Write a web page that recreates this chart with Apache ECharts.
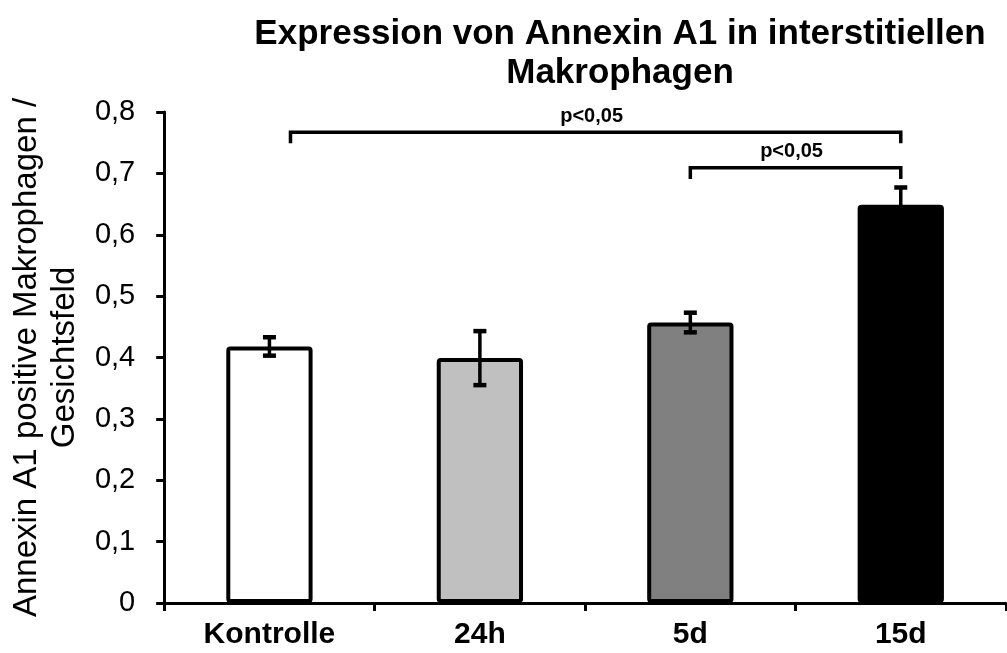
<!DOCTYPE html>
<html>
<head>
<meta charset="utf-8">
<script src="https://cdn.jsdelivr.net/npm/echarts@6/dist/echarts.min.js"></script>
<style>html,body{margin:0;padding:0;background:#fff}#c{width:1007px;height:653px}</style>
</head>
<body>
<div id="c"></div>
<script>
const categories = ['Kontrolle', '24h', '5d', '15d'];
const values = [0.418, 0.399, 0.457, 0.649];
const errors = [0.015, 0.044, 0.016, 0.028];
const barColors = ['#ffffff', '#c0c0c0', '#808080', '#000000'];
const yTicks = [0, 0.1, 0.2, 0.3, 0.4, 0.5, 0.6, 0.7, 0.8];
const bracketStart = [0.1, 2];
const bracketEnd = [3, 3];
const bracketLevel = [0.767, 0.709];
const bracketDrop = 0.018;
const bracketLabels = ['p<0,05', 'p<0,05'];

const FONT = '"Liberation Sans", Arial, sans-serif';
const chart = echarts.init(document.getElementById('c'), null, {renderer: 'canvas'});

const option = {
  backgroundColor: '#ffffff',
  animation: false,
  title: {
    text: 'Expression von Annexin A1 in interstitiellen\nMakrophagen',
    left: 615, top: 10, textAlign: 'center',
    textStyle: {fontFamily: FONT, fontSize: 35, fontWeight: 'bold', color: '#000', lineHeight: 39}
  },
  grid: {left: 160, right: 1, top: 112, bottom: 50, containLabel: false},
  xAxis: [{
    type: 'category', data: categories, boundaryGap: true,
    axisLine: {lineStyle: {color: '#000', width: 3}},
    axisTick: {show: true, length: 8, inside: false, interval: 0, alignWithLabel: false, lineStyle: {color: '#000', width: 3}},
    axisLabel: {fontFamily: FONT, fontSize: 30, fontWeight: 'bold', color: '#000', margin: 17, interval: 0},
    splitLine: {show: false}
  }, {
    type: 'value', min: -0.5, max: 3.5, show: false
  }],
  yAxis: {
    type: 'value', min: yTicks[0], max: yTicks[yTicks.length - 1], interval: 0.1,
    name: 'Annexin A1 positive Makrophagen /\nGesichtsfeld',
    nameLocation: 'middle', nameRotate: 90, nameGap: 78,
    nameTextStyle: {fontFamily: FONT, fontSize: 33, color: '#000', lineHeight: 38, align: 'center'},
    axisLine: {show: true, onZero: false, lineStyle: {color: '#000', width: 3}},
    axisTick: {show: true, length: 8, lineStyle: {color: '#000', width: 3}},
    axisLabel: {fontFamily: FONT, fontSize: 29, color: '#000', margin: 29,
      formatter: v => String(Math.round(v * 10) / 10).replace('.', ',')},
    splitLine: {show: false}
  },
  series: [{
    type: 'bar', xAxisIndex: 0, barWidth: '41%',
    data: values.map((v, i) => ({value: v, itemStyle: {color: barColors[i]}})),
    itemStyle: {borderColor: '#000', borderWidth: 4, borderRadius: 2},
    z: 2
  }, {
    type: 'custom', xAxisIndex: 0, z: 5,
    data: values.map((v, i) => [i, v, errors[i]]),
    renderItem: (params, api) => {
      const i = api.value(0), v = api.value(1), e = api.value(2);
      const top = api.coord([i, v + e]);
      const bot = api.coord([i, v - e]);
      const hw = 6.5;
      const st = {stroke: '#000', lineWidth: 3.5};
      return {type: 'group', children: [
        {type: 'line', shape: {x1: top[0], y1: top[1], x2: bot[0], y2: bot[1]}, style: st},
        {type: 'line', shape: {x1: top[0] - hw, y1: top[1], x2: top[0] + hw, y2: top[1]}, style: {stroke: '#000', lineWidth: 4.5}},
        {type: 'line', shape: {x1: bot[0] - hw, y1: bot[1], x2: bot[0] + hw, y2: bot[1]}, style: {stroke: '#000', lineWidth: 4.5}}
      ]};
    }
  }, {
    type: 'custom', xAxisIndex: 1, z: 5,
    data: bracketStart.map((s, i) => [s, bracketEnd[i], bracketLevel[i], i]),
    renderItem: (params, api) => {
      const s = api.value(0), e = api.value(1), y = api.value(2), idx = api.value(3);
      const p1 = api.coord([s, y - bracketDrop]);
      const p2 = api.coord([s, y]);
      const p3 = api.coord([e, y]);
      const p4 = api.coord([e, y - bracketDrop]);
      return {type: 'group', children: [
        {type: 'polyline', shape: {points: [p1, p2, p3, p4]}, style: {stroke: '#000', lineWidth: 3.5, fill: null}},
        {type: 'text', x: (p2[0] + p3[0]) / 2 - 4, y: p2[1] - 6,
          style: {text: bracketLabels[idx], fontFamily: FONT, fontSize: 20, fontWeight: 'bold', fill: '#000', align: 'center', verticalAlign: 'bottom'}}
      ]};
    }
  }]
};
chart.setOption(option);
</script>
</body>
</html>
